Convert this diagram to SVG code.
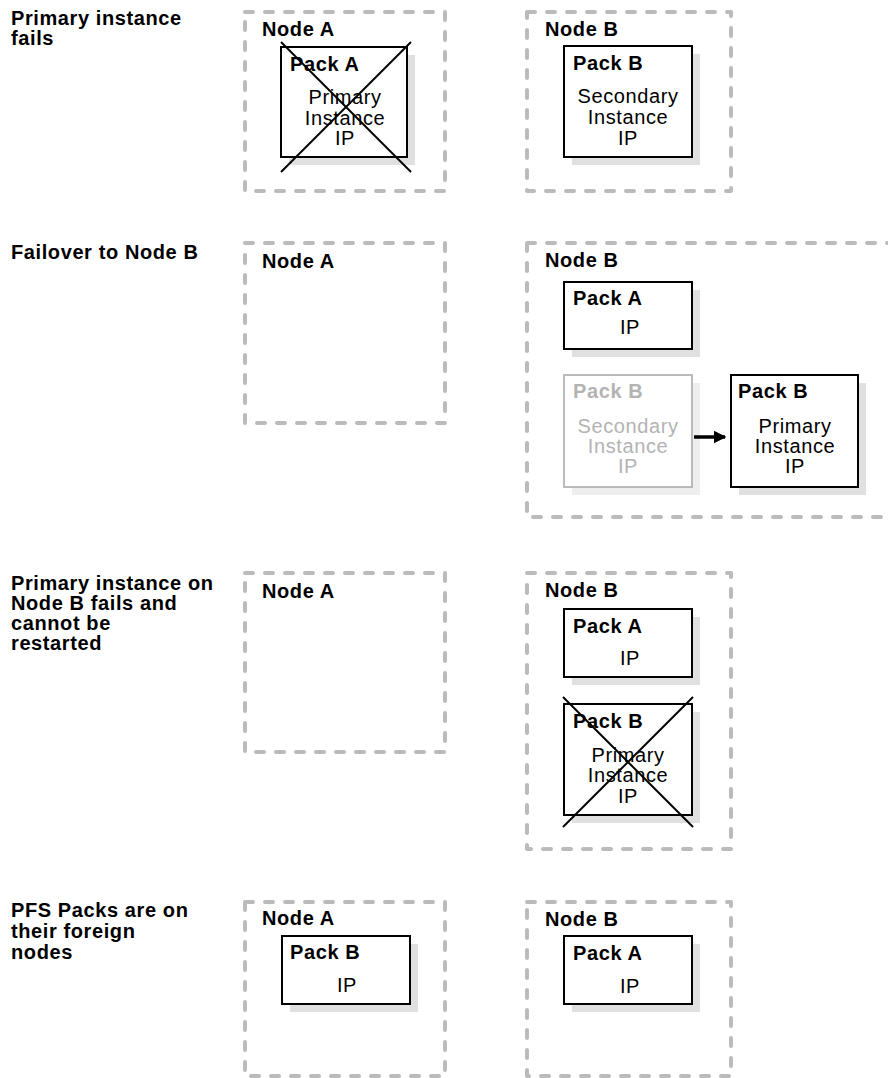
<svg xmlns="http://www.w3.org/2000/svg" width="888" height="1078" viewBox="0 0 888 1078">
<style>
text{font-family:"Liberation Sans",Arial,sans-serif;font-size:20px;fill:#000;letter-spacing:0.6px}
.b{font-weight:bold}
.m{text-anchor:middle}
.node{fill:none;stroke:#bbbbbb;stroke-width:4;stroke-dasharray:8 12;stroke-linecap:round;stroke-linejoin:round}
.pack{fill:#fff;stroke:#000;stroke-width:2}
.sh{fill:#e0e0e0}
.gpack{fill:#fff;stroke:#bbbbbb;stroke-width:2}
.gsh{fill:#eeeeee}
.g{fill:#b3b3b3}
.x{stroke:#000;stroke-width:2}
</style>
<defs>
<marker id="ah" viewBox="0 0 10 10" refX="9" refY="5" markerWidth="3.6" markerHeight="4.6" orient="auto" markerUnits="strokeWidth">
<path d="M0,0 L10,5 L0,10 z" fill="#000"/>
</marker>
</defs>

<g id="titles">
<text class="b" x="11" y="25">Primary instance</text>
<text class="b" x="11" y="45">fails</text>
<text class="b" x="11" y="259">Failover to Node B</text>
<text class="b" x="11" y="590">Primary instance on</text>
<text class="b" x="11" y="610">Node B fails and</text>
<text class="b" x="11" y="630">cannot be</text>
<text class="b" x="11" y="650">restarted</text>
<text class="b" x="11" y="917">PFS Packs are on</text>
<text class="b" x="11" y="938">their foreign</text>
<text class="b" x="11" y="959">nodes</text>
</g>

<!-- Row 1 -->
<g id="r1-nodeA">
<rect class="node" x="245" y="12" width="200" height="179"/>
<text class="b" x="262" y="36">Node A</text>
<g id="r1-packA">
<rect class="sh" x="289" y="55" width="126" height="110"/>
<rect class="pack" x="281" y="47" width="126" height="110"/>
<text class="b" x="290" y="71">Pack A</text>
<text class="m" x="345" y="104">Primary</text>
<text class="m" x="345" y="124.5">Instance</text>
<text class="m" x="345" y="145">IP</text>
<line class="x" x1="281" y1="42" x2="411" y2="172"/>
<line class="x" x1="411" y1="42" x2="281" y2="172"/>
</g>
</g>
<g id="r1-nodeB">
<rect class="node" x="527" y="12" width="204" height="179"/>
<text class="b" x="545" y="36">Node B</text>
<g id="r1-packB">
<rect class="sh" x="572" y="54" width="128" height="111"/>
<rect class="pack" x="564" y="46" width="128" height="111"/>
<text class="b" x="573" y="70">Pack B</text>
<text class="m" x="628" y="103">Secondary</text>
<text class="m" x="628" y="124">Instance</text>
<text class="m" x="628" y="145">IP</text>
</g>
</g>

<!-- Row 2 -->
<g id="r2-nodeA">
<rect class="node" x="245" y="243" width="200" height="180"/>
<text class="b" x="262" y="268">Node A</text>
</g>
<g id="r2-nodeB">
<rect class="node" x="527" y="243" width="380" height="274"/>
<text class="b" x="545" y="267">Node B</text>
<g id="r2-packA">
<rect class="sh" x="572" y="290" width="128" height="67"/>
<rect class="pack" x="564" y="282" width="128" height="67"/>
<text class="b" x="573" y="305">Pack A</text>
<text class="m" x="630" y="334">IP</text>
</g>
<g id="r2-packB-secondary">
<rect class="gsh" x="572" y="383" width="128" height="112"/>
<rect class="gpack" x="564" y="375" width="128" height="112"/>
<text class="b g" x="573" y="398">Pack B</text>
<text class="m g" x="628" y="433">Secondary</text>
<text class="m g" x="628" y="453">Instance</text>
<text class="m g" x="628" y="473">IP</text>
</g>
<g id="r2-packB-primary">
<rect class="sh" x="739" y="383" width="127" height="112"/>
<rect class="pack" x="731" y="375" width="127" height="112"/>
<text class="b" x="738" y="398">Pack B</text>
<text class="m" x="795" y="433">Primary</text>
<text class="m" x="795" y="453">Instance</text>
<text class="m" x="795" y="473">IP</text>
</g>
</g>

<!-- Row 3 -->
<g id="r3-nodeA">
<rect class="node" x="245" y="573" width="200" height="179"/>
<text class="b" x="262" y="598">Node A</text>
</g>
<g id="r3-nodeB">
<rect class="node" x="527" y="573" width="204" height="276"/>
<text class="b" x="545" y="597">Node B</text>
<g id="r3-packA">
<rect class="sh" x="572" y="617" width="128" height="68"/>
<rect class="pack" x="564" y="609" width="128" height="68"/>
<text class="b" x="573" y="633">Pack A</text>
<text class="m" x="630" y="665">IP</text>
</g>
<g id="r3-packB">
<rect class="sh" x="572" y="712" width="128" height="111"/>
<rect class="pack" x="564" y="704" width="128" height="111"/>
<text class="b" x="573" y="728">Pack B</text>
<text class="m" x="628" y="762">Primary</text>
<text class="m" x="628" y="782">Instance</text>
<text class="m" x="628" y="803">IP</text>
<line class="x" x1="563" y1="697" x2="693" y2="827"/>
<line class="x" x1="693" y1="697" x2="563" y2="827"/>
</g>
</g>

<!-- Row 4 -->
<g id="r4-nodeA">
<rect class="node" x="245" y="902" width="200" height="174"/>
<text class="b" x="262" y="925">Node A</text>
<g id="r4-packB">
<rect class="sh" x="290" y="944" width="128" height="68"/>
<rect class="pack" x="282" y="936" width="128" height="68"/>
<text class="b" x="290" y="959">Pack B</text>
<text class="m" x="347" y="992">IP</text>
</g>
</g>
<g id="r4-nodeB">
<rect class="node" x="527" y="902" width="204" height="174"/>
<text class="b" x="545" y="926">Node B</text>
<g id="r4-packA">
<rect class="sh" x="572" y="944" width="128" height="68"/>
<rect class="pack" x="564" y="936" width="128" height="68"/>
<text class="b" x="573" y="960">Pack A</text>
<text class="m" x="630" y="993">IP</text>
</g>
</g>

<g id="connectors">
<line x1="694" y1="437" x2="725" y2="437" stroke="#000" stroke-width="3.5" marker-end="url(#ah)"/>
</g>
</svg>
